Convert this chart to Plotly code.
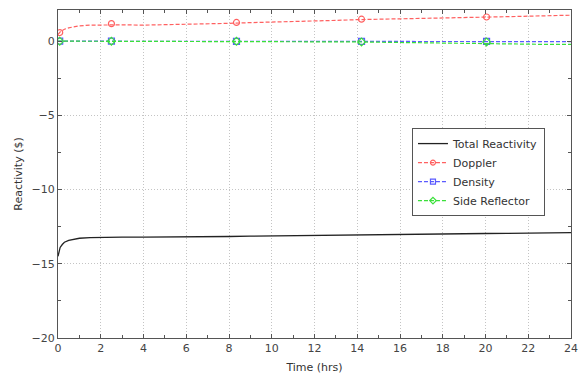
import plotly.graph_objects as go

# Time grid for the transient (hours)
time_hrs = [0, 0.05, 0.1, 0.2, 0.3, 0.5, 0.75, 1.0, 1.5, 2.0, 2.5, 3, 4, 5, 6, 7, 8, 9, 10,
            11, 12, 13, 14, 15, 16, 17, 18, 19, 20, 21, 22, 23, 24]

total_reactivity = [-14.5, -14.1, -13.9, -13.7, -13.55, -13.42, -13.33, -13.28, -13.24, -13.22,
                    -13.21, -13.2, -13.2, -13.2, -13.19, -13.18, -13.16, -13.14, -13.12,
                    -13.1, -13.08, -13.06, -13.04, -13.02, -13.01, -13.0, -12.99, -12.98,
                    -12.96, -12.95, -12.93, -12.92, -12.9]

doppler = [0.45, 0.55, 0.62, 0.72, 0.8, 0.9, 0.98, 1.03, 1.08, 1.1, 1.12, 1.1, 1.08, 1.1,
           1.12, 1.15, 1.2, 1.25, 1.28, 1.3, 1.35, 1.4, 1.45, 1.47, 1.5, 1.52, 1.55, 1.58,
           1.62, 1.65, 1.68, 1.72, 1.75]

density = [0, 0, 0, 0, 0, 0, 0, 0, 0, 0, 0, -0.01, -0.01, -0.01, -0.01, -0.01, -0.01, -0.01,
           -0.01, -0.01, -0.01, -0.02, -0.02, -0.02, -0.02, -0.02, -0.02, -0.02, -0.02,
           -0.02, -0.02, -0.03, -0.03]

side_reflector = [0, 0, 0, 0, 0, 0, 0, 0, 0, 0, 0, 0, 0, 0, 0, 0, 0, -0.01, -0.01, -0.02,
                  -0.03, -0.04, -0.05, -0.07, -0.09, -0.12, -0.16, -0.19, -0.2, -0.21, -0.21,
                  -0.22, -0.22]

# Sample times where symbols are drawn
marker_times = [0.08, 2.5, 8.35, 14.2, 20.05]
doppler_marks = [0.58, 1.18, 1.26, 1.48, 1.63]
density_marks = [0, 0, -0.01, -0.02, -0.02]
side_reflector_marks = [0, 0, -0.01, -0.05, -0.05]

x_ticks = list(range(0, 25, 2))
y_ticks = [0, -5, -10, -15, -20]

RED = "#ff6060"
BLUE = "#5a5aff"
GREEN = "#3ae03a"

fig = go.Figure()

series = [
    ("Doppler", doppler, doppler_marks, RED, "4px,2px", "circle-open"),
    ("Density", density, density_marks, BLUE, "4px,2px", "square-open"),
    ("Side Reflector", side_reflector, side_reflector_marks, GREEN, "4px,2px", "diamond-open"),
]

fig.add_trace(go.Scatter(x=time_hrs, y=total_reactivity, mode="lines", name="Total Reactivity",
                         line=dict(color="#222222", width=1.3)))

for name, vals, marks, color, dash, symbol in series:
    fig.add_trace(go.Scatter(x=time_hrs, y=vals, mode="lines", showlegend=False,
                             line=dict(color=color, width=1.2, dash=dash)))
    fig.add_trace(go.Scatter(x=marker_times, y=marks, mode="markers", showlegend=False,
                             marker=dict(symbol=symbol, size=6, color=color,
                                         line=dict(width=1.2, color=color))))
    # legend entry
    fig.add_trace(go.Scatter(x=[None], y=[None], mode="lines+markers", name=name,
                             line=dict(color=color, width=1.2, dash=dash),
                             marker=dict(symbol=symbol, size=5, color=color,
                                         line=dict(width=1.2, color=color))))

axis_common = dict(
    showline=True, linecolor="#555555", linewidth=1.2, mirror="ticks",
    ticks="inside", ticklen=4, tickcolor="#555555",
    showgrid=True, gridcolor="#c4c4c4", griddash="1px,2px", gridwidth=1,
    zeroline=False,
    ticklabeloverflow="allow",
    tickfont=dict(family="DejaVu Sans", size=11, color="#444444"),
)

fig.update_xaxes(range=[0, 24], tickvals=x_ticks, ticktext=[str(v) for v in x_ticks],
                 title=dict(text="Time (hrs)", font=dict(family="DejaVu Sans", size=11, color="#333333"),
                            standoff=9),
                 minor=dict(dtick=1, ticks="inside", ticklen=3, tickcolor="#555555", showgrid=False),
                 automargin=False,
                 **axis_common)
fig.update_yaxes(range=[-20, 2.1], tickvals=y_ticks, ticktext=["0", "\u22125", "\u221210", "\u221215", "\u221220"],
                 title=dict(text="Reactivity ($)", font=dict(family="DejaVu Sans", size=11, color="#333333"),
                            standoff=6),
                 minor=dict(tickvals=[-2.5, -7.5, -12.5, -17.5], ticks="inside", ticklen=3,
                            tickcolor="#555555", showgrid=False),
                 **axis_common)

fig.update_layout(
    width=580, height=376,
    margin=dict(l=58, r=9, t=10, b=38),
    paper_bgcolor="white", plot_bgcolor="white",
    font=dict(family="DejaVu Sans", size=11, color="#333333"),
    legend=dict(x=0.69, y=0.64, xanchor="left", yanchor="top",
                bgcolor="white", bordercolor="#555555", borderwidth=1,
                font=dict(family="DejaVu Sans", size=11, color="#333333"),
                tracegroupgap=0, itemwidth=30),
    showlegend=True,
)

fig.write_html("out.html")
